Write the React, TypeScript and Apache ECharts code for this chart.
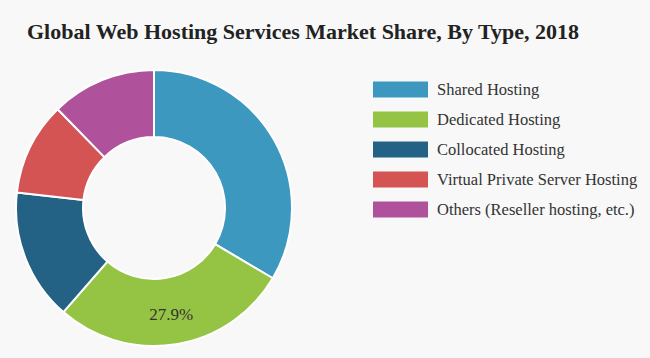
import React, { useEffect, useRef } from "react";
import * as echarts from "echarts";

const titleText = "Global Web Hosting Services Market Share, By Type, 2018";
const categories = [
  "Shared Hosting",
  "Dedicated Hosting",
  "Collocated Hosting",
  "Virtual Private Server Hosting",
  "Others (Reseller hosting, etc.)",
];
const shares = [33.5, 27.9, 15.4, 10.9, 12.3];
const colors = ["#3d98c0", "#95c343", "#236185", "#d45353", "#b0529b"];
const labelled = ["Dedicated Hosting"];

const SERIF = "Liberation Serif";

export default function App() {
  const ref = useRef<HTMLDivElement>(null);
  useEffect(() => {
    if (!ref.current) return;
    const chart = echarts.init(ref.current, null, { renderer: "svg" });
    chart.setOption({
      animation: false,
      backgroundColor: "#f8f8f8",
      textStyle: { fontFamily: SERIF },
      title: {
        text: titleText,
        left: 22,
        top: 15,
        textStyle: {
          fontFamily: SERIF,
          fontWeight: "bold",
          fontSize: 22,
          color: "#222",
        },
      },
      legend: {
        orient: "vertical",
        left: 373,
        top: 81,
        padding: 0,
        itemWidth: 55,
        itemHeight: 16,
        itemGap: 13,
        icon: "rect",
        textStyle: {
          fontFamily: SERIF,
          fontSize: 16.5,
          lineHeight: 16,
          color: "#333",
          padding: [0, 0, 0, 4],
        },
        itemStyle: { borderWidth: 0 },
        data: categories,
      },
      series: [
        {
          type: "pie",
          center: [154, 208],
          radius: [71, 138],
          startAngle: 90,
          clockwise: true,
          avoidLabelOverlap: false,
          itemStyle: { borderColor: "#ffffff", borderWidth: 2 },
          label: { show: false, fontFamily: SERIF },
          labelLine: { show: false },
          emphasis: { disabled: true },
          data: categories.map((name, i) => ({
            name,
            value: shares[i],
            itemStyle: { color: colors[i] },
            label: {
              show: labelled.includes(name),
              position: "inside",
              formatter: (p: any) => p.value.toFixed(1) + "%",
              fontFamily: SERIF,
              fontSize: 17,
              color: "#333",
            },
          })),
        },
      ],
    });
    return () => chart.dispose();
  }, []);
  return (
    <div
      ref={ref}
      style={{ position: "absolute", left: 0, top: 0, width: 650, height: 358 }}
    />
  );
}
